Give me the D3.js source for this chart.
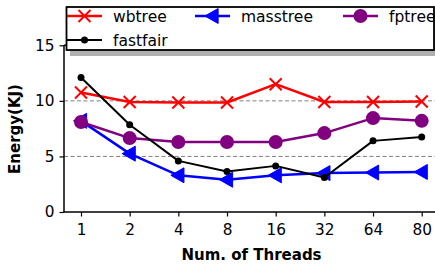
<!DOCTYPE html>
<html><head><meta charset="utf-8">
<script src="https://cdn.jsdelivr.net/npm/d3@7"></script>
<style>body{margin:0;background:#fff;} svg{display:block;font-family:"DejaVu Sans",sans-serif;}</style>
</head><body>
<svg id="c" width="435" height="267"></svg>
<script>
const categories = ["1","2","4","8","16","32","64","80"];
const wbtree   = [10.75, 9.9, 9.85, 9.85, 11.5, 9.9, 9.9, 9.95];
const fastfair = [12.1, 7.85, 4.6, 3.65, 4.15, 3.1, 6.4, 6.75];
const masstree = [8.2, 5.25, 3.3, 2.9, 3.3, 3.5, 3.55, 3.6];
const fptree   = [8.1, 6.65, 6.3, 6.3, 6.3, 7.1, 8.45, 8.2];
const yTicks = [0, 5, 10, 15];
const gridVals = [5, 10];

(function(){
const svg = d3.select("#c");
const x = d3.scalePoint().domain(categories).range([81, 421.7]);
const y = d3.scaleLinear().domain([0, 15]).range([212, 45.3]);
const pL = 64, pR = 439, pB = 212, pT = 45.3;

// grid
svg.append("g").selectAll("line").data(gridVals).join("line")
  .attr("x1", pL).attr("x2", pR).attr("y1", d => y(d)).attr("y2", d => y(d))
  .attr("stroke", "#808080").attr("stroke-width", 1).attr("stroke-dasharray", "4,2.5");

// axes
const yAxis = d3.axisLeft(y).tickValues(yTicks).tickSize(4.5).tickPadding(5).tickFormat(d3.format("d"));
const gy = svg.append("g").attr("transform", `translate(${pL},0)`).call(yAxis);
const xAxis = d3.axisBottom(x).tickSize(4.5).tickPadding(8);
const gx = svg.append("g").attr("transform", `translate(0,${pB})`).call(xAxis);
[gx, gy].forEach(g => {
  g.select(".domain").remove();
  g.selectAll(".tick line").attr("stroke", "#000").attr("stroke-width", 1.2);
  g.selectAll(".tick text").attr("font-size", 15.3).attr("fill", "#000").attr("font-family", "DejaVu Sans");
});
// spines
svg.append("line").attr("x1", pL).attr("x2", pL).attr("y1", pT).attr("y2", pB + 0.7)
  .attr("stroke", "#000").attr("stroke-width", 1.5);
svg.append("line").attr("x1", pL - 0.7).attr("x2", pR).attr("y1", pB).attr("y2", pB)
  .attr("stroke", "#000").attr("stroke-width", 1.5);
svg.append("line").attr("x1", pL).attr("x2", pR).attr("y1", pT).attr("y2", pT)
  .attr("stroke", "#000").attr("stroke-width", 1.5);

// labels
svg.append("text").attr("x", 251.5).attr("y", 259.5).attr("text-anchor", "middle")
  .attr("font-size", 15).attr("font-weight", "bold").text("Num. of Threads");
svg.append("text").attr("transform", "translate(20,129) rotate(-90)").attr("text-anchor", "middle")
  .attr("font-size", 15).attr("font-weight", "bold").text("Energy(KJ)");

const line = d3.line().x((d, i) => x(categories[i])).y(d => y(d));

function xMarker(g, cx, cy, s, color) {
  g.append("path").attr("d", `M${cx-s},${cy-s}L${cx+s},${cy+s}M${cx-s},${cy+s}L${cx+s},${cy-s}`)
    .attr("stroke", color).attr("stroke-width", 2).attr("fill", "none");
}
function triMarker(g, cx, cy, s, color) {
  g.append("path").attr("d", `M${cx-s},${cy}L${cx+s*0.75},${cy-s}L${cx+s*0.75},${cy+s}Z`)
    .attr("fill", color).attr("stroke", color).attr("stroke-width", 1);
}
function circMarker(g, cx, cy, r, color) {
  g.append("circle").attr("cx", cx).attr("cy", cy).attr("r", r).attr("fill", color);
}

const series = [
  {name: "wbtree", data: wbtree, color: "#ff0000", lw: 2.5, m: (g,cx,cy)=>xMarker(g,cx,cy,6,"#ff0000")},
  {name: "masstree", data: masstree, color: "#0000ff", lw: 2.5, m: (g,cx,cy)=>triMarker(g,cx,cy,7.5,"#0000ff")},
  {name: "fptree", data: fptree, color: "#800080", lw: 2.5, m: (g,cx,cy)=>circMarker(g,cx,cy,7,"#800080")},
  {name: "fastfair", data: fastfair, color: "#000000", lw: 2, m: (g,cx,cy)=>circMarker(g,cx,cy,3.5,"#000")},
];
series.forEach(s => {
  const g = svg.append("g");
  g.append("path").datum(s.data).attr("d", line).attr("fill", "none")
    .attr("stroke", s.color).attr("stroke-width", s.lw).attr("stroke-linejoin", "round");
  s.data.forEach((v, i) => s.m(g, x(categories[i]), y(v)));
});

// legend
const lg = svg.append("g");
lg.append("rect").attr("x", 70).attr("y", 12.5).attr("width", 370).attr("height", 43.5).attr("fill", "#b0b0b0");
lg.append("rect").attr("x", 66.5).attr("y", 7).attr("width", 367.5).attr("height", 43)
  .attr("fill", "#fff").attr("stroke", "#000").attr("stroke-width", 1.8);
const legendItems = [
  {s: series[0], x0: 67, y0: 16},
  {s: series[3], x0: 67, y0: 40},
  {s: series[1], x0: 195, y0: 16},
  {s: series[2], x0: 343, y0: 16},
];
legendItems.forEach(it => {
  lg.append("line").attr("x1", it.x0).attr("x2", it.x0 + 35).attr("y1", it.y0).attr("y2", it.y0)
    .attr("stroke", it.s.color).attr("stroke-width", it.s.lw);
  it.s.m(lg, it.x0 + 17.5, it.y0);
  lg.append("text").attr("x", it.x0 + 46).attr("y", it.y0 + 5.5).attr("font-size", 15.5).text(it.s.name);
});
})();
</script>
</body></html>
